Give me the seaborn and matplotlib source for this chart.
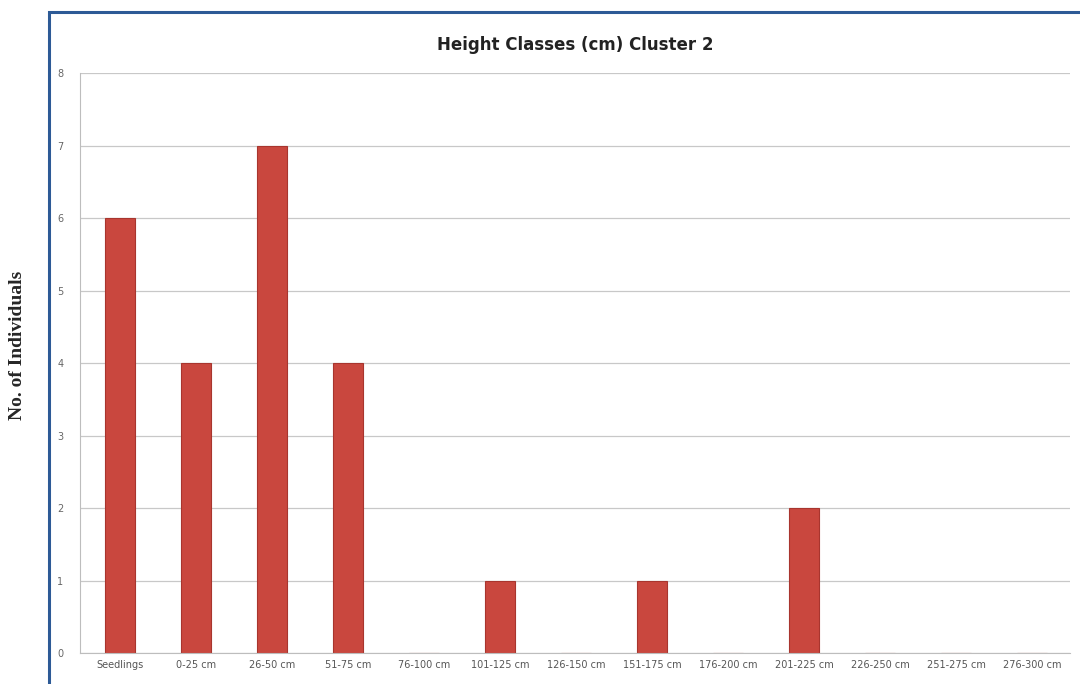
import pandas as pd
import matplotlib
matplotlib.use("Agg")
import matplotlib.pyplot as plt
import seaborn as sns
from matplotlib.patches import Rectangle

# data

height_classes = ["Seedlings", "0-25 cm", "26-50 cm", "51-75 cm", "76-100 cm",
                  "101-125 cm", "126-150 cm", "151-175 cm", "176-200 cm",
                  "201-225 cm", "226-250 cm", "251-275 cm", "276-300 cm"]
individuals = [6, 4, 7, 4, 0, 1, 0, 1, 0, 2, 0, 0, 0]

df = pd.DataFrame({"Class": height_classes, "Count": individuals})

sns.set_style("white")

fig = plt.figure(figsize=(10.8, 6.84), dpi=100)
ax = fig.add_axes([0.074, 0.045, 0.917, 0.848])

sns.barplot(data=df, x="Class", y="Count", color="#c9473e", width=0.4,
            edgecolor="#a8352e", linewidth=0.8, saturation=1, ax=ax)

ax.set_ylim(0, 8)
ax.set_xlim(-0.53, 12.5)
ax.set_yticks(range(0, 9))
ax.yaxis.grid(True, color="#c8c8c8", linewidth=0.9)
ax.set_axisbelow(True)

for side in ["top", "right"]:
    ax.spines[side].set_visible(False)
ax.spines["left"].set_color("#bdbdbd")
ax.spines["bottom"].set_color("#bdbdbd")

ax.tick_params(axis="y", labelsize=7, colors="#666666", length=0, pad=12)
ax.tick_params(axis="x", labelsize=7, colors="#555555", length=0, pad=5)
ax.set_xlabel("")
ax.set_ylabel("")

ax.set_title("Height Classes (cm) Cluster 2", fontsize=12, fontweight="bold",
             color="#222222", pad=17)

# blue chart frame
fig.patches.append(Rectangle((0.045, -0.05), 1.0, 1.0325, transform=fig.transFigure,
                             fill=False, edgecolor="#2d5a96", linewidth=2.2))

fig.text(0.016, 0.495, "No. of Individuals", rotation=90, ha="center", va="center",
         fontsize=14, fontweight="bold", family="Liberation Serif")

fig.savefig("out.png", dpi=100)
